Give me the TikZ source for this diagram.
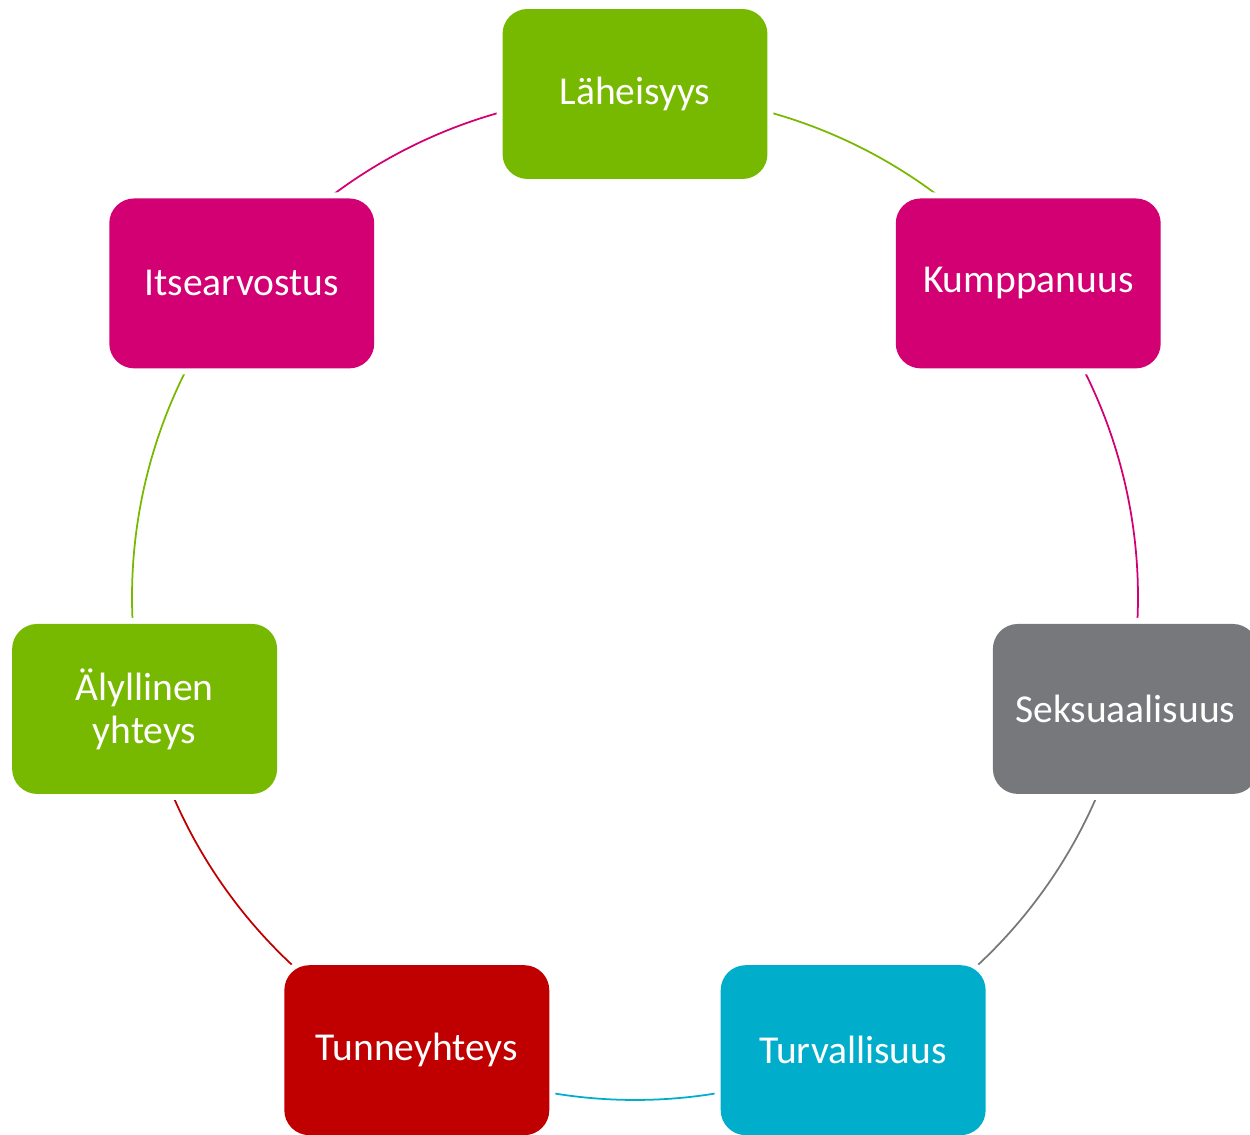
\documentclass[tikz,border=0pt]{standalone}
\usepackage{fontspec}
\setmainfont{Carlito}
\usetikzlibrary{backgrounds}

\definecolor{lehti}{HTML}{77B900}
\definecolor{ruusu}{HTML}{D20073}
\definecolor{harmaa}{HTML}{77787B}
\definecolor{turkoosi}{HTML}{00AECB}
\definecolor{viini}{HTML}{C00000}

\tikzset{
  kortti/.style={rectangle, rounded corners=0.5cm, minimum width=5.3cm, minimum height=3.4cm,
    text=white, align=center, font=\fontsize{22.5}{24.5}\selectfont,
    preaction={draw=white, line width=0.24cm}},
  kaari/.style={line width=1pt}
}

\begin{document}
\begin{tikzpicture}[x=0.02cm, y=0.02cm]
	\useasboundingbox (-635,-538) rectangle (615,597);

	\node[kortti, fill=lehti] (lah) at (90:503) {Läheisyys};
	\node[kortti, fill=ruusu] (kum) at (38.57:503) {Kumppanuus};
	\node[kortti, fill=harmaa] (sek) at (-12.86:503) {Seksuaalisuus};
	\node[kortti, fill=turkoosi] (tur) at (-64.29:503) {Turvallisuus};
	\node[kortti, fill=viini] (tun) at (-115.71:503) {Tunneyhteys};
	\node[kortti, fill=lehti] (aly) at (-167.14:503) {Älyllinen\\yhteys};
	\node[kortti, fill=ruusu] (its) at (141.43:503) {Itsearvostus};

	% arcs run behind the cards
	\begin{scope}[on background layer]
		\draw[kaari, lehti] (lah.center) arc[start angle=90, end angle=38.57, radius=503];
		\draw[kaari, ruusu] (kum.center) arc[start angle=38.57, end angle=-12.86, radius=503];
		\draw[kaari, harmaa] (sek.center) arc[start angle=-12.86, end angle=-64.29, radius=503];
		\draw[kaari, turkoosi] (tur.center) arc[start angle=-64.29, end angle=-115.71, radius=503];
		\draw[kaari, viini] (tun.center) arc[start angle=-115.71, end angle=-167.14, radius=503];
		\draw[kaari, lehti] (aly.center) arc[start angle=-167.14, end angle=-218.57, radius=503];
		\draw[kaari, ruusu] (its.center) arc[start angle=141.43, end angle=90, radius=503];
	\end{scope}
\end{tikzpicture}
\end{document}
